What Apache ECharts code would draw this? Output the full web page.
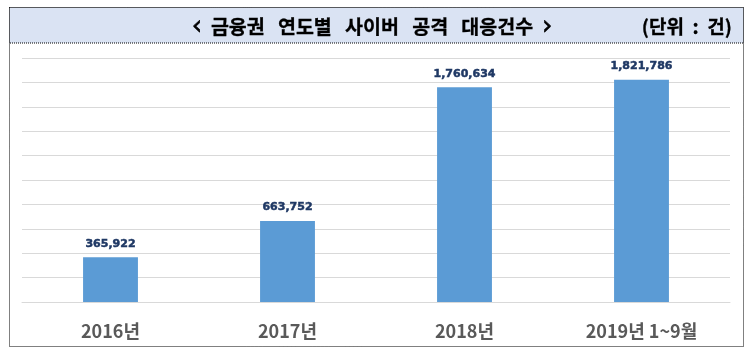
<!DOCTYPE html>
<html><head><meta charset="utf-8">
<script src="https://cdn.jsdelivr.net/npm/echarts@6/dist/echarts.min.js"></script>
<style>html,body{margin:0;padding:0;background:#fff}#c{width:750px;height:355px}</style>
</head><body><div id="c"></div>
<script>
const categories = ['2016년', '2017년', '2018년', '2019년 1~9월'];
const values = [365922, 663752, 1760634, 1821786];
const titleText = '{b|‹}  금융권   연도별   사이버   공격   대응건수  {b|›}';
const unitText = '(단위  :  건)';
const yMin = 0, yMax = 2000000, yInterval = 200000;

const chart = echarts.init(document.getElementById('c'), null, {renderer: 'canvas'});
chart.setOption({
  animation: false,
  backgroundColor: '#fff',
  graphic: [
    {type: 'rect', shape: {x: 9.5, y: 7.5, width: 734, height: 339}, style: {fill: 'none', stroke: '#000', lineWidth: 1, lineDash: [1, 1]}, z: 0},
    {type: 'rect', shape: {x: 9.5, y: 7.5, width: 734, height: 35.5}, style: {fill: '#dae3f3', stroke: '#000', lineWidth: 1, lineDash: [1, 1]}, z: 0},
    {type: 'text', x: 372, y: 27, style: {text: titleText, align: 'center', verticalAlign: 'middle',
      font: 'bold 19.5px "Noto Sans CJK KR"', fill: '#000', stroke: '#000', lineWidth: 0.3,
      rich: {b: {font: '26px "DejaVu Sans"', fill: '#000', stroke: '#000', lineWidth: 0.6, verticalAlign: 'middle'}}}, z: 5},
    {type: 'text', x: 732, y: 27, style: {text: unitText, align: 'right', verticalAlign: 'middle',
      font: 'bold 19px "Noto Sans CJK KR"', fill: '#000', stroke: '#000', lineWidth: 0.3}, z: 5}
  ],
  grid: {left: 22, right: 20, top: 58, bottom: 53, containLabel: false},
  xAxis: {
    type: 'category', data: categories,
    axisLine: {show: true, lineStyle: {color: '#d9d9d9', width: 1}},
    axisTick: {show: false},
    axisLabel: {margin: 20, color: '#595959', fontSize: 18, fontWeight: 'bold', fontFamily: '"Noto Sans CJK KR"'}
  },
  yAxis: {
    type: 'value', min: yMin, max: yMax, interval: yInterval,
    axisLabel: {show: false}, axisLine: {show: false}, axisTick: {show: false},
    splitLine: {lineStyle: {color: '#d9d9d9', width: 1}}
  },
  series: [{
    type: 'bar', data: values, barWidth: '31%',
    itemStyle: {color: '#5b9bd5'},
    label: {show: true, position: 'top', distance: 8, color: '#1f3864', fontSize: 11, fontWeight: 'bold', fontFamily: '"DejaVu Sans"',
      textBorderColor: '#1f3864', textBorderWidth: 0.5,
      formatter: p => p.value.toLocaleString('en-US')}
  }]
});
</script></body></html>
